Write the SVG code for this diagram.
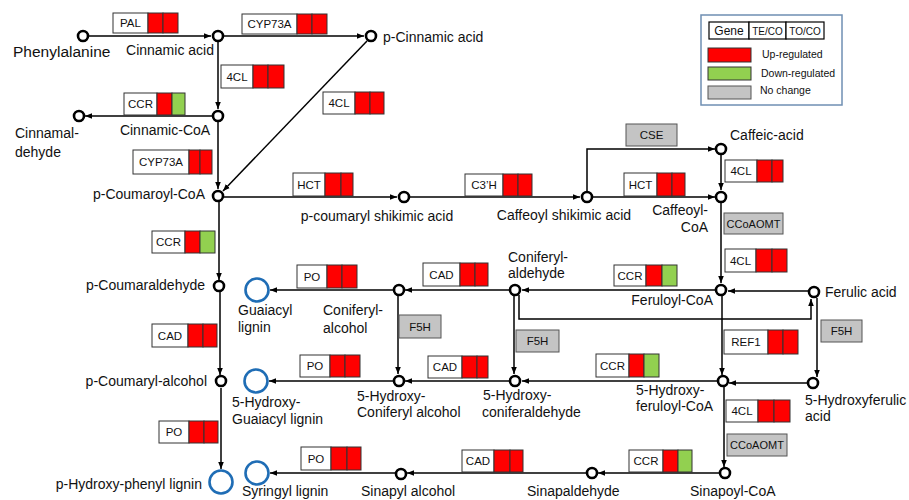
<svg xmlns="http://www.w3.org/2000/svg" width="909" height="500" viewBox="0 0 909 500">
<style>
text{font-family:"Liberation Sans",Arial,sans-serif;fill:#111}
.t{font-size:14px}
.g{font-size:11.5px}
.n{fill:#fff;stroke:#000;stroke-width:2.6}
.b{fill:#fff;stroke:#1f6db5;stroke-width:2.6}
.c{fill:none;stroke:#000;stroke-width:1.5}
.lb{fill:#fff;stroke:#333;stroke-width:1}
.up{fill:#ff0000;stroke:#333;stroke-width:1}
.dn{fill:#92d050;stroke:#333;stroke-width:1}
.nc{fill:#c4c4c4;stroke:#555;stroke-width:1}
.e{text-anchor:end}
.m{text-anchor:middle}
</style>
<defs>
<marker id="ah" viewBox="0 0 10 10" refX="10" refY="5" markerWidth="7" markerHeight="7" orient="auto" markerUnits="userSpaceOnUse"><path d="M0,1 L10,5 L0,9 z" fill="#000"/></marker>
</defs>
<rect width="909" height="500" fill="#fff"/>
<g id="connectors">
<path class="c" marker-end="url(#ah)" d="M88,36 H211"/>
<path class="c" marker-end="url(#ah)" d="M224,36 H364"/>
<path class="c" marker-end="url(#ah)" d="M218,42 V109"/>
<path class="c" marker-end="url(#ah)" d="M212,116 H85"/>
<path class="c" marker-end="url(#ah)" d="M218,122 V189"/>
<path class="c" marker-end="url(#ah)" d="M367,41 L223,191"/>
<path class="c" marker-end="url(#ah)" d="M224,197 H397"/>
<path class="c" marker-end="url(#ah)" d="M410,197 H580"/>
<path class="c" marker-end="url(#ah)" d="M593,197 H715"/>
<path class="c" marker-end="url(#ah)" d="M587,191 V149 H715"/>
<path class="c" marker-end="url(#ah)" d="M721,155 V190"/>
<path class="c" marker-end="url(#ah)" d="M721,203 V283"/>
<path class="c" marker-end="url(#ah)" d="M808,291 H728"/>
<path class="c" marker-end="url(#ah)" d="M715,290 H522"/>
<path class="c" marker-end="url(#ah)" d="M509,290 H405"/>
<path class="c" marker-end="url(#ah)" d="M393,290 H270"/>
<path class="c" marker-end="url(#ah)" d="M519,295 V319 H811 V299"/>
<path class="c" marker-end="url(#ah)" d="M514,296 V374"/>
<path class="c" marker-end="url(#ah)" d="M398,296 V374"/>
<path class="c" marker-end="url(#ah)" d="M817,298 V377"/>
<path class="c" marker-end="url(#ah)" d="M722,296 V375"/>
<path class="c" marker-end="url(#ah)" d="M807,383 H729"/>
<path class="c" marker-end="url(#ah)" d="M717,381 H522"/>
<path class="c" marker-end="url(#ah)" d="M509,381 H405"/>
<path class="c" marker-end="url(#ah)" d="M393,381 H269"/>
<path class="c" marker-end="url(#ah)" d="M724,387 V467"/>
<path class="c" marker-end="url(#ah)" d="M720,473 H598"/>
<path class="c" marker-end="url(#ah)" d="M586,473 H407"/>
<path class="c" marker-end="url(#ah)" d="M395,473 H270"/>
<path class="c" marker-end="url(#ah)" d="M219,202 V280"/>
<path class="c" marker-end="url(#ah)" d="M220,292 V375"/>
<path class="c" marker-end="url(#ah)" d="M221,388 V469"/>
</g>
<g id="n-phenylalanine"><circle class="n" cx="83" cy="36" r="5"/><text x="13" y="57" style="font-size:15.5px">Phenylalanine</text></g>
<g id="n-cinnamic"><circle class="n" cx="218" cy="36" r="5"/><text class="t m" x="170" y="55">Cinnamic acid</text></g>
<g id="n-pcinnamic"><circle class="n" cx="371" cy="36" r="5"/><text class="t" x="383" y="42">p-Cinnamic acid</text></g>
<g id="n-cinnamoylcoa"><circle class="n" cx="218" cy="116" r="5"/><text class="t m" x="165" y="135">Cinnamic-CoA</text></g>
<g id="n-cinnamaldehyde"><circle class="n" cx="79" cy="116" r="5"/><text class="t" x="15" y="138">Cinnamal-</text><text class="t" x="15" y="157">dehyde</text></g>
<g id="n-pcoumaroylcoa"><circle class="n" cx="218" cy="196" r="5"/><text class="t e" x="205" y="199">p-Coumaroyl-CoA</text></g>
<g id="n-pcoumshik"><circle class="n" cx="404" cy="197" r="5"/><text class="t m" x="377" y="221">p-coumaryl shikimic acid</text></g>
<g id="n-caffshik"><circle class="n" cx="587" cy="197" r="5"/><text class="t m" x="564" y="220">Caffeoyl shikimic acid</text></g>
<g id="n-caffeic"><circle class="n" cx="721" cy="149" r="5"/><text class="t" x="730" y="140">Caffeic-acid</text></g>
<g id="n-caffeoylcoa"><circle class="n" cx="721" cy="197" r="5"/><text class="t e" x="708" y="215">Caffeoyl-</text><text class="t e" x="708" y="232">CoA</text></g>
<g id="n-pcoumaraldehyde"><circle class="n" cx="219" cy="286" r="5"/><text class="t e" x="205" y="290">p-Coumaraldehyde</text></g>
<g id="n-guaiacyl"><circle class="b" cx="257" cy="290" r="11.5"/><text class="t" x="238" y="315">Guaiacyl</text><text class="t" x="238" y="332">lignin</text></g>
<g id="n-coniferylalcohol"><circle class="n" cx="399" cy="290" r="5"/><text class="t" x="323" y="315">Coniferyl-</text><text class="t" x="323" y="333">alcohol</text></g>
<g id="n-coniferylaldehyde"><circle class="n" cx="515" cy="290" r="5"/><text class="t" x="508" y="262">Coniferyl-</text><text class="t" x="508" y="278">aldehyde</text></g>
<g id="n-feruloylcoa"><circle class="n" cx="721" cy="290" r="5"/><text class="t e" x="713" y="305">Feruloyl-CoA</text></g>
<g id="n-ferulic"><circle class="n" cx="814" cy="292" r="5"/><text class="t" x="825" y="297">Ferulic acid</text></g>
<g id="n-pcoumarylalcohol"><circle class="n" cx="221" cy="381" r="5"/><text class="t e" x="207" y="386">p-Coumaryl-alcohol</text></g>
<g id="n-5ohguaiacyl"><circle class="b" cx="256" cy="381" r="11.5"/><text class="t" x="232" y="407">5-Hydroxy-</text><text class="t" x="232" y="424">Guaiacyl lignin</text></g>
<g id="n-5ohconalcohol"><circle class="n" cx="399" cy="381" r="5"/><text class="t" x="357" y="401">5-Hydroxy-</text><text class="t" x="357" y="417">Coniferyl alcohol</text></g>
<g id="n-5ohconald"><circle class="n" cx="515" cy="381" r="5"/><text class="t" x="483" y="400">5-Hydroxy-</text><text class="t" x="482" y="417">coniferaldehyde</text></g>
<g id="n-5ohferuloylcoa"><circle class="n" cx="723" cy="381" r="5"/><text class="t" x="636" y="395">5-Hydroxy-</text><text class="t" x="636" y="411">feruloyl-CoA</text></g>
<g id="n-5ohferulic"><circle class="n" cx="813" cy="383" r="5"/><text class="t" x="805" y="405">5-Hydroxyferulic</text><text class="t" x="805" y="421">acid</text></g>
<g id="n-phydroxyphenyl"><circle class="b" cx="221" cy="482" r="11.5"/><text class="t e" x="202" y="489">p-Hydroxy-phenyl lignin</text></g>
<g id="n-syringyl"><circle class="b" cx="257" cy="473" r="11.5"/><text class="t" x="242" y="496">Syringyl lignin</text></g>
<g id="n-sinapylalcohol"><circle class="n" cx="401" cy="474" r="5"/><text class="t" x="361" y="496">Sinapyl alcohol</text></g>
<g id="n-sinapaldehyde"><circle class="n" cx="592" cy="473" r="5"/><text class="t" x="527" y="496">Sinapaldehyde</text></g>
<g id="n-sinapoylcoa"><circle class="n" cx="725" cy="473" r="5"/><text class="t" x="690" y="496">Sinapoyl-CoA</text></g>
<g id="gene-PAL"><rect class="lb" x="113" y="13" width="35" height="20"/><rect class="up" x="148" y="13" width="15" height="20"/><rect class="up" x="163" y="13" width="15" height="20"/><text class="g m" x="130.5" y="27">PAL</text></g>
<g id="gene-CYP73A-1"><rect class="lb" x="242" y="14" width="55" height="20"/><rect class="up" x="297" y="14" width="15" height="20"/><rect class="up" x="312" y="14" width="15" height="20"/><text class="g m" x="269.5" y="28">CYP73A</text></g>
<g id="gene-4CL-1"><rect class="lb" x="221" y="65" width="32" height="23"/><rect class="up" x="253" y="65" width="15" height="23"/><rect class="up" x="268" y="65" width="16" height="23"/><text class="g m" x="237" y="81">4CL</text></g>
<g id="gene-CCR-1"><rect class="lb" x="124" y="93" width="33" height="22"/><rect class="up" x="157" y="93" width="15" height="22"/><rect class="dn" x="172" y="93" width="13" height="22"/><text class="g m" x="140.5" y="108">CCR</text></g>
<g id="gene-4CL-2"><rect class="lb" x="323" y="92" width="32" height="22"/><rect class="up" x="355" y="92" width="15" height="22"/><rect class="up" x="370" y="92" width="14" height="22"/><text class="g m" x="339" y="107">4CL</text></g>
<g id="gene-CYP73A-2"><rect class="lb" x="133" y="150" width="56" height="24"/><rect class="up" x="189" y="150" width="11" height="24"/><rect class="up" x="200" y="150" width="12" height="24"/><text class="g m" x="161" y="166">CYP73A</text></g>
<g id="gene-HCT-1"><rect class="lb" x="293" y="173" width="32" height="23"/><rect class="up" x="325" y="173" width="16" height="23"/><rect class="up" x="341" y="173" width="12" height="23"/><text class="g m" x="309" y="189">HCT</text></g>
<g id="gene-CCR-2"><rect class="lb" x="152" y="231" width="33" height="22"/><rect class="up" x="185" y="231" width="15" height="22"/><rect class="dn" x="200" y="231" width="15" height="22"/><text class="g m" x="168.5" y="246">CCR</text></g>
<g id="gene-C3H"><rect class="lb" x="465" y="174" width="38" height="22"/><rect class="up" x="503" y="174" width="15" height="22"/><rect class="up" x="518" y="174" width="14" height="22"/><text class="g m" x="484" y="189">C3’H</text></g>
<g id="gene-CSE"><rect class="nc" x="626" y="124" width="51" height="22"/><text class="g m" x="651.5" y="139">CSE</text></g>
<g id="gene-HCT-2"><rect class="lb" x="624" y="173" width="33" height="23"/><rect class="up" x="657" y="173" width="15" height="23"/><rect class="up" x="672" y="173" width="13" height="23"/><text class="g m" x="640.5" y="189">HCT</text></g>
<g id="gene-4CL-3"><rect class="lb" x="725" y="160" width="32" height="22"/><rect class="up" x="757" y="160" width="15" height="22"/><rect class="up" x="772" y="160" width="11" height="22"/><text class="g m" x="741" y="175">4CL</text></g>
<g id="gene-CCoAOMT-1"><rect class="nc" x="724" y="213" width="59" height="21"/><text class="g m" x="753.5" y="228" style="font-size:11px">CCoAOMT</text></g>
<g id="gene-4CL-4"><rect class="lb" x="725" y="249" width="31" height="23"/><rect class="up" x="756" y="249" width="16" height="23"/><rect class="up" x="772" y="249" width="15" height="23"/><text class="g m" x="740.5" y="265">4CL</text></g>
<g id="gene-CCR-3"><rect class="lb" x="614" y="265" width="32" height="21"/><rect class="up" x="646" y="265" width="16" height="21"/><rect class="dn" x="662" y="265" width="15" height="21"/><text class="g m" x="630" y="280">CCR</text></g>
<g id="gene-PO-1"><rect class="lb" x="297" y="265" width="30" height="23"/><rect class="up" x="327" y="265" width="15" height="23"/><rect class="up" x="342" y="265" width="15" height="23"/><text class="g m" x="312" y="281">PO</text></g>
<g id="gene-CAD-1"><rect class="lb" x="423" y="263" width="37" height="23"/><rect class="up" x="460" y="263" width="15" height="23"/><rect class="up" x="475" y="263" width="13" height="23"/><text class="g m" x="441.5" y="279">CAD</text></g>
<g id="gene-F5H-1"><rect class="nc" x="399" y="315" width="42" height="23"/><text class="g m" x="420" y="331">F5H</text></g>
<g id="gene-F5H-2"><rect class="nc" x="516" y="330" width="43" height="22"/><text class="g m" x="537.5" y="345">F5H</text></g>
<g id="gene-F5H-3"><rect class="nc" x="821" y="320" width="41" height="22"/><text class="g m" x="841.5" y="335">F5H</text></g>
<g id="gene-REF1"><rect class="lb" x="724" y="330" width="44" height="24"/><rect class="up" x="768" y="330" width="15" height="24"/><rect class="up" x="783" y="330" width="15" height="24"/><text class="g m" x="746" y="346">REF1</text></g>
<g id="gene-CAD-2"><rect class="lb" x="152" y="324" width="36" height="23"/><rect class="up" x="188" y="324" width="15" height="23"/><rect class="up" x="203" y="324" width="14" height="23"/><text class="g m" x="170" y="340">CAD</text></g>
<g id="gene-PO-2"><rect class="lb" x="300" y="355" width="30" height="22"/><rect class="up" x="330" y="355" width="15" height="22"/><rect class="up" x="345" y="355" width="15" height="22"/><text class="g m" x="315" y="370">PO</text></g>
<g id="gene-CAD-3"><rect class="lb" x="428" y="356" width="34" height="22"/><rect class="up" x="462" y="356" width="15" height="22"/><rect class="up" x="477" y="356" width="11" height="22"/><text class="g m" x="445" y="371">CAD</text></g>
<g id="gene-CCR-4"><rect class="lb" x="596" y="354" width="33" height="23"/><rect class="up" x="629" y="354" width="15" height="23"/><rect class="dn" x="644" y="354" width="15" height="23"/><text class="g m" x="612.5" y="370">CCR</text></g>
<g id="gene-4CL-5"><rect class="lb" x="726" y="400" width="32" height="22"/><rect class="up" x="758" y="400" width="16" height="22"/><rect class="up" x="774" y="400" width="16" height="22"/><text class="g m" x="742" y="415">4CL</text></g>
<g id="gene-CCoAOMT-2"><rect class="nc" x="727" y="434" width="60" height="22"/><text class="g m" x="757" y="449" style="font-size:11px">CCoAOMT</text></g>
<g id="gene-PO-3"><rect class="lb" x="159" y="421" width="30" height="22"/><rect class="up" x="189" y="421" width="15" height="22"/><rect class="up" x="204" y="421" width="14" height="22"/><text class="g m" x="174" y="436">PO</text></g>
<g id="gene-PO-4"><rect class="lb" x="301" y="447" width="30" height="23"/><rect class="up" x="331" y="447" width="16" height="23"/><rect class="up" x="347" y="447" width="14" height="23"/><text class="g m" x="316" y="463">PO</text></g>
<g id="gene-CAD-4"><rect class="lb" x="462" y="450" width="32" height="22"/><rect class="up" x="494" y="450" width="16" height="22"/><rect class="up" x="510" y="450" width="13" height="22"/><text class="g m" x="478" y="465">CAD</text></g>
<g id="gene-CCR-5"><rect class="lb" x="629" y="450" width="34" height="22"/><rect class="up" x="663" y="450" width="15" height="22"/><rect class="dn" x="678" y="450" width="14" height="22"/><text class="g m" x="646" y="465">CCR</text></g>
<g id="legend">
<rect x="701" y="15" width="141" height="90" fill="#fff" stroke="#6f8fb3" stroke-width="1.5"/>
<rect x="709" y="22" width="40" height="17" fill="#fff" stroke="#000" stroke-width="1.2"/>
<rect x="749" y="22" width="37" height="17" fill="#fff" stroke="#000" stroke-width="1.2"/>
<rect x="786" y="22" width="38" height="17" fill="#fff" stroke="#000" stroke-width="1.2"/>
<text x="729" y="35" class="m" style="font-size:12px">Gene</text>
<text x="767.5" y="35" class="m" style="font-size:10px">TE/CO</text>
<text x="805" y="35" class="m" style="font-size:10px">TO/CO</text>
<rect class="up" x="708" y="48" width="43" height="14"/>
<rect class="dn" x="708" y="67" width="43" height="13"/>
<rect class="nc" x="708" y="86" width="43" height="13"/>
<text x="762" y="58" style="font-size:10.5px">Up-regulated</text>
<text x="761" y="77" style="font-size:10.5px">Down-regulated</text>
<text x="760" y="94" style="font-size:10.5px">No change</text>
</g>
</svg>
